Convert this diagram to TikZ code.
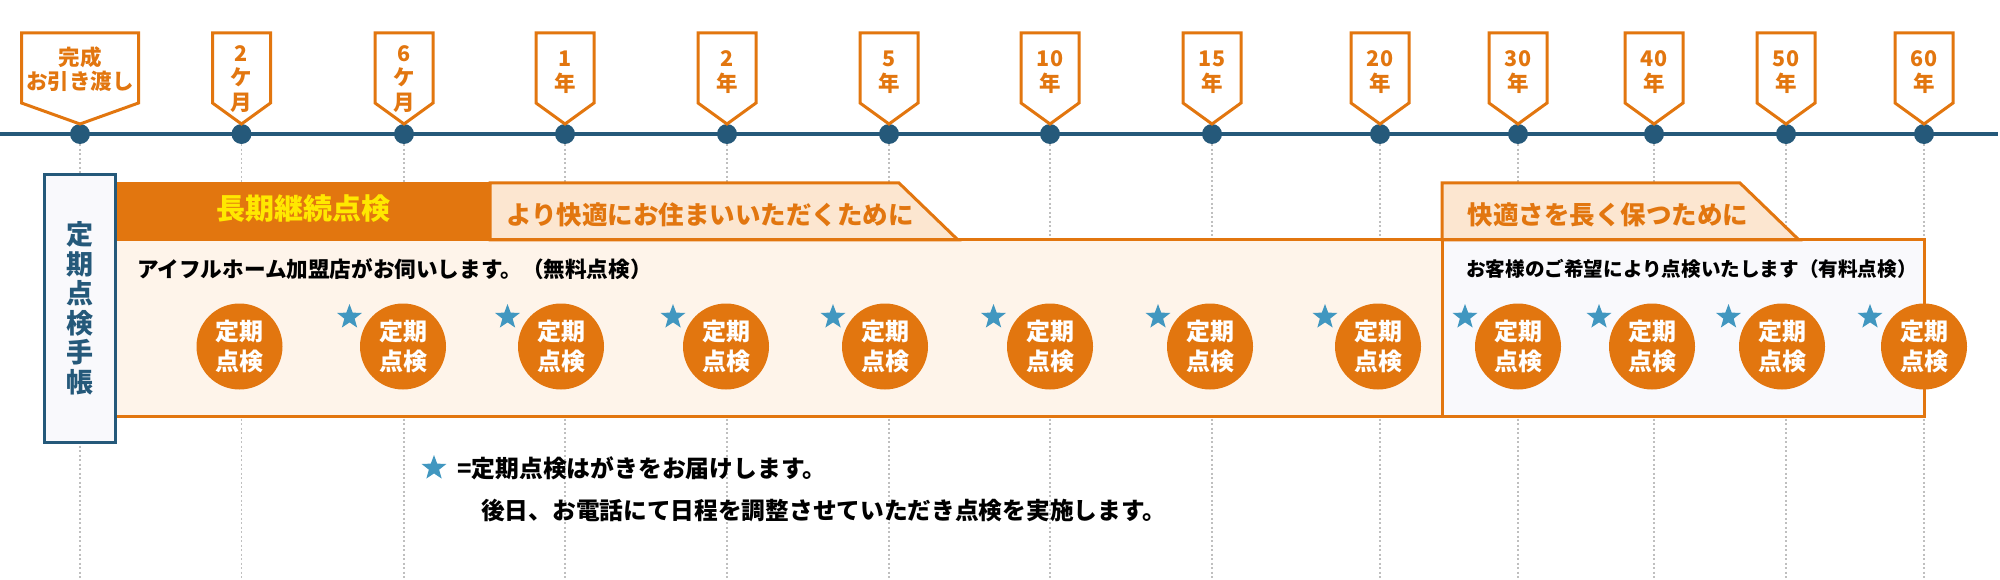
\documentclass[tikz,border=0pt]{standalone}
\usepackage{fontspec}
\setmainfont{Noto Sans CJK JP}
\usetikzlibrary{shapes.geometric}

\definecolor{teal}{HTML}{25597A}
\definecolor{amber}{HTML}{E2760F}
\definecolor{peach}{HTML}{FCE6D0}
\definecolor{cream}{HTML}{FEF4EA}
\definecolor{mist}{HTML}{F9F9FC}
\definecolor{sky}{HTML}{4197C0}

% flag above the line: x, half width
\newcommand{\flagbox}[2]{\draw[flagline] (#1-#2,33) -- (#1+#2,33) -- (#1+#2,103) -- (#1,124) -- (#1-#2,103) -- cycle;}

\begin{document}
\begin{tikzpicture}[x=1pt,y=-1pt,line join=miter]

  \tikzstyle{flagline}=[draw=amber,fill=white,line width=3pt]
  \tikzstyle{flagtext}=[text=amber,inner sep=0pt,align=center,font=\fontsize{21.5}{24.5}\selectfont\bfseries]
  \tikzstyle{mark dot}=[circle,fill=teal,minimum size=20pt,inner sep=0pt]
  \tikzstyle{guide}=[draw=gray!50,line width=1.2pt,dash pattern=on 2pt off 2.5pt]
  \tikzstyle{tab}=[draw=amber,line width=3pt]
  \tikzstyle{tabtext}=[text=amber,inner sep=0pt,font=\fontsize{25.5}{30}\selectfont\bfseries]
  \tikzstyle{note}=[text=black,inner sep=0pt,anchor=west,font=\fontsize{21.6}{24}\selectfont\bfseries]
  \tikzstyle{visit}=[circle,fill=amber,text=white,minimum size=86pt,inner sep=0pt,align=center,font=\fontsize{24}{30}\selectfont\bfseries]
  \tikzstyle{mail}=[star,star points=5,star point ratio=2.4,fill=sky,minimum size=26pt,inner sep=0pt]

  \useasboundingbox (0,0) rectangle (2000,580);
  \coordinate (TL) at (0,134);
  \coordinate (TR) at (1998,134);
  \coordinate (BT) at (0,580);

  % time line
  \draw[teal,line width=4pt] (TL) -- (TR);
  \node[mark dot] (T0)  at (80,134)   {};
  \node[mark dot] (T1)  at (241.5,134) {};
  \node[mark dot] (T2)  at (404,134)  {};
  \node[mark dot] (T3)  at (565,134)  {};
  \node[mark dot] (T4)  at (727,134)  {};
  \node[mark dot] (T5)  at (889,134)  {};
  \node[mark dot] (T6)  at (1050,134) {};
  \node[mark dot] (T7)  at (1212,134) {};
  \node[mark dot] (T8)  at (1380,134) {};
  \node[mark dot] (T9)  at (1518,134) {};
  \node[mark dot] (T10) at (1654,134) {};
  \node[mark dot] (T11) at (1786,134) {};
  \node[mark dot] (T12) at (1924,134) {};

  \path[guide] (T0) -- (T0 |- BT)   (T1) -- (T1 |- BT)   (T2) -- (T2 |- BT)
               (T3) -- (T3 |- BT)   (T4) -- (T4 |- BT)   (T5) -- (T5 |- BT)
               (T6) -- (T6 |- BT)   (T7) -- (T7 |- BT)   (T8) -- (T8 |- BT)
               (T9) -- (T9 |- BT)   (T10) -- (T10 |- BT) (T11) -- (T11 |- BT)
               (T12) -- (T12 |- BT);

  % flags
  \flagbox{80}{58.5}
  \flagbox{241.5}{29}
  \flagbox{404}{29}
  \flagbox{565}{29}
  \flagbox{727}{29}
  \flagbox{889}{29}
  \flagbox{1050}{29}
  \flagbox{1212}{29}
  \flagbox{1380}{29}
  \flagbox{1518}{29}
  \flagbox{1654}{29}
  \flagbox{1786}{29}
  \flagbox{1924}{29}

  \node[flagtext] (F0)  at (80,69)    {完成\\お引き渡し};
  \node[flagtext] (F1)  at (241.5,79) {2\\ケ\\月};
  \node[flagtext] (F2)  at (404,79)   {6\\ケ\\月};
  \node[flagtext] (F3)  at (565,72)   {1\\年};
  \node[flagtext] (F4)  at (727,72)   {2\\年};
  \node[flagtext] (F5)  at (889,72)   {5\\年};
  \node[flagtext] (F6)  at (1050,72)  {10\\年};
  \node[flagtext] (F7)  at (1212,72)  {15\\年};
  \node[flagtext] (F8)  at (1380,72)  {20\\年};
  \node[flagtext] (F9)  at (1518,72)  {30\\年};
  \node[flagtext] (F10) at (1654,72)  {40\\年};
  \node[flagtext] (F11) at (1786,72)  {50\\年};
  \node[flagtext] (F12) at (1924,72)  {60\\年};

  % panels
  \fill[cream] (117,241) rectangle (1442,416);
  \fill[mist] (1442,241) rectangle (1924,416);
  \fill[amber] (117,182) rectangle (490,241);
  \draw[tab,fill=peach] (490,183) -- (899,183) -- (958,240) -- (490,240) -- cycle;
  \draw[tab,fill=peach] (1442,183) -- (1740,183) -- (1799,240) -- (1442,240) -- cycle;
  \draw[tab] (117,240) -- (1924,240) -- (1924,416) -- (117,416);
  \draw[tab] (1442,240) -- (1442,416);

  \node[inner sep=0pt,text={rgb,255:red,255;green,232;blue,0},font=\fontsize{29}{32}\selectfont\bfseries] (HD) at (303,209) {長期継続点検};
  \node[tabtext] (TA) at (710,215) {より快適にお住まいいただくために};
  \node[tabtext] (TB) at (1608,215) {快適さを長く保つために};
  \node[note] (NA) at (137,269) {アイフルホーム加盟店がお伺いします。（無料点検）};
  \node[note,font=\fontsize{19.6}{24}\selectfont\bfseries] (NB) at (1466,269) {お客様のご希望により点検いたします（有料点検）};

  % booklet
  \node[draw=teal,fill=mist,line width=3.5pt,text=teal,minimum width=71pt,minimum height=268pt,
        inner sep=0pt,align=center,font=\fontsize{27}{29.5}\selectfont\bfseries] (BK) at (80,308.5)
        {定\\期\\点\\検\\手\\帳};

  % visits
  \node[visit] (P1)  at (239.5,346.5) {定期\\点検};
  \node[visit] (P2)  at (403,346.5)   {定期\\点検};
  \node[visit] (P3)  at (561,346.5)   {定期\\点検};
  \node[visit] (P4)  at (726,346.5)   {定期\\点検};
  \node[visit] (P5)  at (885,346.5)   {定期\\点検};
  \node[visit] (P6)  at (1050,346.5)  {定期\\点検};
  \node[visit] (P7)  at (1210,346.5)  {定期\\点検};
  \node[visit] (P8)  at (1378,346.5)  {定期\\点検};
  \node[visit] (P9)  at (1518,346.5)  {定期\\点検};
  \node[visit] (P10) at (1652,346.5)  {定期\\点検};
  \node[visit] (P11) at (1782,346.5)  {定期\\点検};
  \node[visit] (P12) at (1924,346.5)  {定期\\点検};

  \node[mail] (S2)  at (349.5,317) {};
  \node[mail] (S3)  at (507.5,317) {};
  \node[mail] (S4)  at (673,317)   {};
  \node[mail] (S5)  at (833,317)   {};
  \node[mail] (S6)  at (993.5,317) {};
  \node[mail] (S7)  at (1158,317)  {};
  \node[mail] (S8)  at (1325,317)  {};
  \node[mail] (S9)  at (1465,317)  {};
  \node[mail] (S10) at (1599,317)  {};
  \node[mail] (S11) at (1728.5,317) {};
  \node[mail] (S12) at (1870,317)  {};

  % legend
  \node[mail] (SL) at (434,468) {};
  \node[note,font=\fontsize{23.8}{26}\selectfont\bfseries] (LA) at (457,468) {=定期点検はがきをお届けします。};
  \node[note,font=\fontsize{23.7}{26}\selectfont\bfseries] (LB) at (481,510) {後日、お電話にて日程を調整させていただき点検を実施します。};
\end{tikzpicture}
\end{document}
